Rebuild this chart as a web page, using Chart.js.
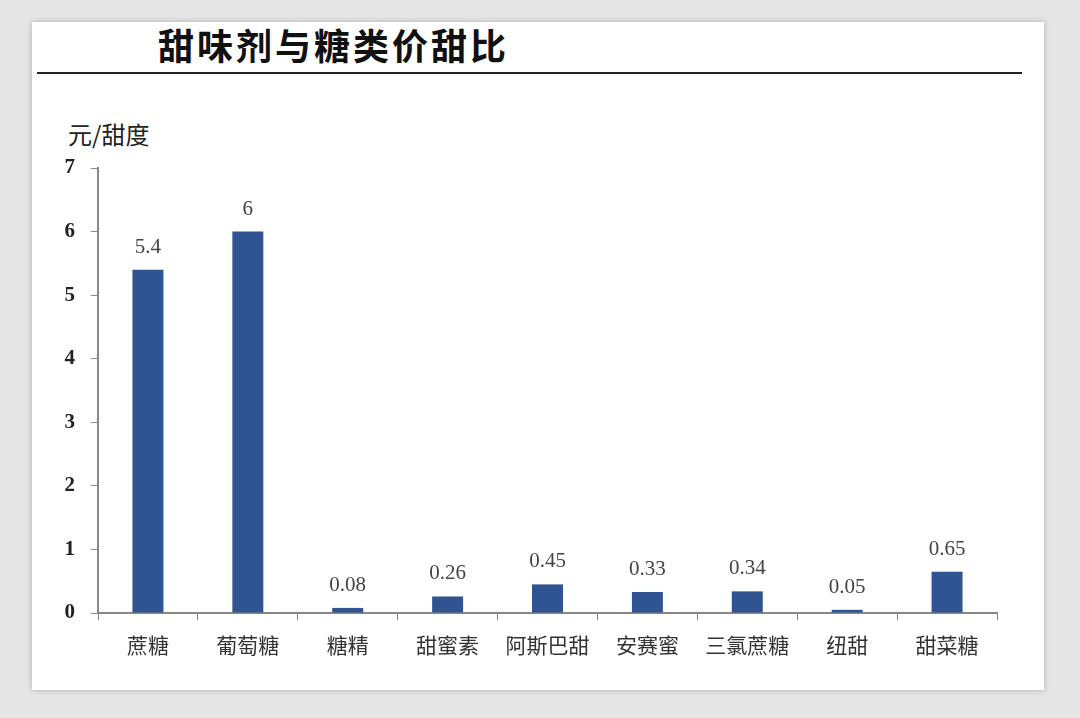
<!DOCTYPE html>
<html>
<head>
<meta charset="utf-8">
<script src="https://cdn.jsdelivr.net/npm/chart.js@4.4.0/dist/chart.umd.min.js"></script>
<style>
  html, body { margin: 0; padding: 0; }
  body { width: 1080px; height: 718px; background: #e6e6e6; position: relative; overflow: hidden; }
  #card { position: absolute; left: 32px; top: 22px; width: 1012px; height: 668px; background: #fff;
          box-shadow: 0 0 6px rgba(0,0,0,0.25); }
  #title { position: absolute; left: 158px; top: 18px; font: bold 36px "Noto Sans CJK SC", sans-serif;
           color: #111; letter-spacing: 3px; }
  #rule { position: absolute; left: 37px; top: 72px; width: 985px; height: 2px; background: #222; }
  #unit { position: absolute; left: 68px; top: 116px; font: 24px "Noto Sans CJK SC", sans-serif; color: #222; }
  canvas { position: absolute; left: 0; top: 0; }
</style>
</head>
<body>
<div id="card"></div>
<div id="title">甜味剂与糖类价甜比</div>
<div id="rule"></div>
<div id="unit">元/甜度</div>
<canvas id="myChart" width="1080" height="718"></canvas>
<script>
"use strict";
const categories = ['蔗糖', '葡萄糖', '糖精', '甜蜜素', '阿斯巴甜', '安赛蜜', '三氯蔗糖', '纽甜', '甜菜糖'];
const values = [5.4, 6, 0.08, 0.26, 0.45, 0.33, 0.34, 0.05, 0.65];
const yTicks = [0, 1, 2, 3, 4, 5, 6, 7];

// value labels above each bar
const barLabels = {
    id: 'barLabels',
    afterDatasetsDraw(chart) {
        const c = chart.ctx;
        const meta = chart.getDatasetMeta(0);
        c.save();
        c.font = '21px "Liberation Serif", serif';
        c.fillStyle = '#444';
        c.textAlign = 'center';
        c.textBaseline = 'bottom';
        meta.data.forEach(function(bar, i) {
            c.fillText(String(values[i]), bar.x, bar.y - 12);
        });
        c.restore();
    }
};

const ctx = document.getElementById('myChart');
var myChart = new Chart(ctx, {
    type: 'bar',
    data: {
        labels: categories,
        datasets: [{
            data: values,
            backgroundColor: '#2f5491',
            barPercentage: 0.62,
            categoryPercentage: 0.5
        }]
    },
    options: {
        responsive: false,
        animation: false,
        layout: { padding: { left: 0, right: 83, top: 168, bottom: 0 } },
        plugins: { legend: { display: false }, tooltip: { enabled: false } },
        scales: {
            x: {
                grid: { display: true, drawOnChartArea: false, drawTicks: true, tickLength: 7, color: '#888', offset: true },
                border: { color: '#888', width: 2 },
                ticks: { color: '#333', padding: 12, font: { family: '"Noto Sans CJK SC", sans-serif', size: 21 } },
                afterFit(scale) { scale.height = 105; }
            },
            y: {
                min: 0,
                max: 7,
                afterBuildTicks(scale) { scale.ticks = yTicks.map(v => ({ value: v })); },
                grid: { display: true, drawOnChartArea: false, drawTicks: true, tickLength: 7, color: '#888' },
                border: { color: '#888', width: 2 },
                ticks: { color: '#222', padding: 16, font: { family: '"Liberation Serif", serif', size: 21, weight: 'bold' } },
                afterFit(scale) { scale.width = 98; }
            }
        }
    },
    plugins: [barLabels]
});
</script>
</body>
</html>
